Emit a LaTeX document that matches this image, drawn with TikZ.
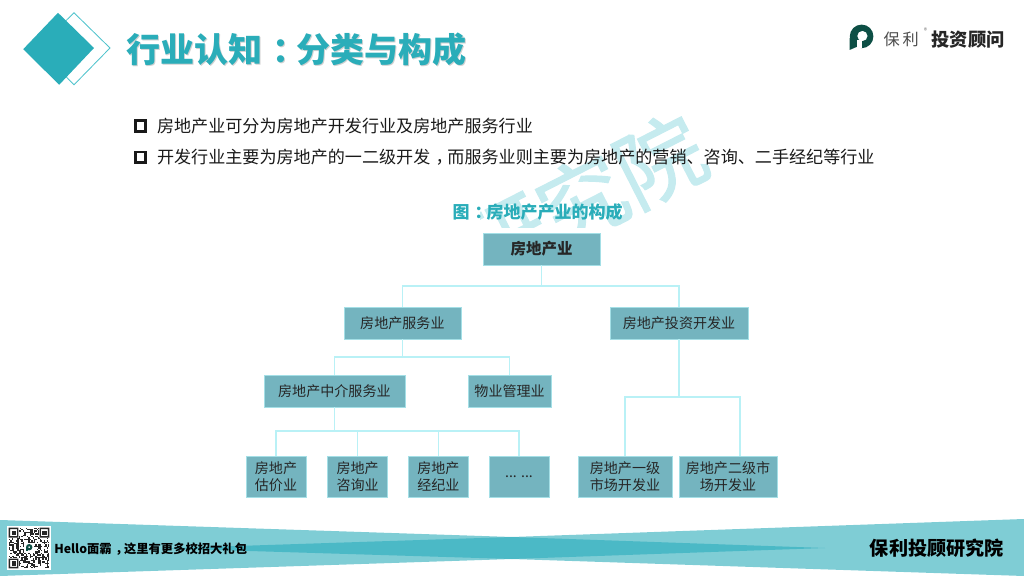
\documentclass[tikz,border=0pt]{standalone}
\usepackage{xcolor}
\usepackage{fontspec}
\setmainfont{Noto Sans CJK SC}
\newfontfamily\markfont[FakeBold=1.2]{Noto Sans CJK SC}
\definecolor{tealmain}{HTML}{2AADB9}
\definecolor{tealline}{HTML}{4FC3CC}
\definecolor{tealbox}{HTML}{74B4BF}
\definecolor{linkcyan}{HTML}{B9F1F6}
\definecolor{bandlight}{HTML}{7FCDD5}
\definecolor{banddark}{HTML}{4BB9C6}
\definecolor{watermark}{HTML}{C5EBEF}
\definecolor{logogreen}{HTML}{0D4F45}
\newcommand{\midpunct}[1]{\hspace{.3em}#1\hspace{-.3em}}
\tikzset{
  sectorbox/.style={draw=linkcyan!70!tealbox,line width=0.4pt,fill=tealbox,text=black!85,inner sep=0pt,
    minimum height=0.8cm,align=center,font=\fontsize{10}{12}\selectfont},
  leafbox/.style={sectorbox,minimum height=1.025cm},
  link/.style={draw=linkcyan,line width=1pt},
  bulletbox/.style={draw=black!90,line width=2pt,minimum size=0.26cm,inner sep=0pt},
  bodytext/.style={anchor=west,inner sep=0pt,text=black!90,font=\fontsize{12.15}{14}\selectfont}
}
\begin{document}
\begin{tikzpicture}
  \useasboundingbox (0,0) rectangle (25.6,14.4);

  % Watermark
  \begin{scope}
    \clip (12,8.7) rectangle (18.2,12);
    \node[rotate=27,text=watermark,inner sep=0pt,font=\markfont\fontsize{62}{64}\selectfont] (Mark) at (14.55,9.4) {研究院};
  \end{scope}

  % Header
  \draw[draw=tealline,line width=0.6pt] (1.85,14.08) -- (2.75,13.2) -- (1.85,12.28) -- (0.95,13.2) -- cycle;
  \fill[tealmain] (1.45,14.08) -- (2.35,13.2) -- (1.48,12.28) -- (0.58,13.17) -- cycle;
  \node[text=black!18,inner sep=0pt,font=\bfseries\fontsize{24.2}{26}\selectfont] (TitleShade) at (7.44,13.13) {行业认知\midpunct{：}分类与构成};
  \node[text=tealmain,inner sep=0pt,font=\bfseries\fontsize{24.2}{26}\selectfont] (Title) at (7.41,13.16) {行业认知\midpunct{：}分类与构成};

  % Logo
  \fill[logogreen,even odd rule] (21.54,13.49) circle (0.295) (21.56,13.5) circle (0.13);
  \fill[logogreen] (21.24,13.45) -- (21.24,13.15) -- (21.4,13.22) -- (21.4,13.4) -- cycle;
  \fill[white] (21.43,13.2) rectangle (21.55,13.4);
  \node[text=black!70,inner sep=0pt,font=\fontsize{11.5}{13}\selectfont] (LogoA) at (22.53,13.42) {保\,利};
  \node[text=black!55,inner sep=0pt,font=\fontsize{5}{6}\selectfont] (LogoR) at (23.14,13.62) {®};
  \node[text=black!85,inner sep=0pt,font=\bfseries\fontsize{13}{15}\selectfont] (LogoB) at (24.2,13.42) {投资顾问};

  % Bullets
  \node[bulletbox] (BulletA) at (3.51,11.25) {};
  \node[bulletbox] (BulletB) at (3.51,10.47) {};
  \node[bodytext] (LineA) at (3.92,11.25) {房地产业可分为房地产开发行业及房地产服务行业};
  \node[bodytext] (LineB) at (3.92,10.47) {开发行业主要为房地产的一二级开发\midpunct{，}而服务业则主要为房地产的营销、咨询、二手经纪等行业};
  \node[text=tealmain,inner sep=0pt,font=\bfseries\fontsize{12.1}{14}\selectfont] (ChartTitle) at (13.44,9.09) {图\midpunct{：}房地产产业的构成};

  % Sectors
  \node[sectorbox,minimum width=2.925cm,font=\bfseries\fontsize{11}{13}\selectfont] (RootSector) at (13.54,8.175) {房地产业};
  \node[sectorbox,minimum width=2.925cm] (ServiceSector) at (10.06,6.325) {房地产服务业};
  \node[sectorbox,minimum width=3.45cm] (InvestSector) at (16.975,6.325) {房地产投资开发业};
  \node[sectorbox,minimum width=3.525cm] (AgencySector) at (8.36,4.625) {房地产中介服务业};
  \node[sectorbox,minimum width=2.075cm] (PropertySector) at (12.74,4.625) {物业管理业};
  \node[leafbox,minimum width=1.5cm] (Appraisal) at (6.9,2.4875) {房地产\\估价业};
  \node[leafbox,minimum width=1.5cm] (Consulting) at (8.94,2.4875) {房地产\\咨询业};
  \node[leafbox,minimum width=1.5cm] (Brokerage) at (10.96,2.4875) {房地产\\经纪业};
  \node[leafbox,minimum width=1.5cm] (OtherLeaf) at (12.975,2.4875) {... ...};
  \node[leafbox,minimum width=2.35cm] (PrimaryDev) at (15.625,2.4875) {房地产一级\\市场开发业};
  \node[leafbox,minimum width=2.45cm] (SecondaryDev) at (18.2,2.4875) {房地产二级市\\场开发业};

  \coordinate (RootBus) at (13.54,7.25);
  \coordinate (ServiceBus) at (10.06,5.475);
  \coordinate (AgencyBus) at (8.36,3.625);
  \coordinate (InvestBus) at (16.975,4.475);
  \coordinate (SecondaryTop) at (18.5,2.9875);

  \draw[link] (RootSector) to (RootBus);
  \draw[link] (RootBus) -| (ServiceSector.north);
  \draw[link] (RootBus) -| (InvestSector.north);
  \draw[link] (ServiceSector) to (ServiceBus);
  \draw[link] (ServiceBus) -| (AgencySector.north);
  \draw[link] (ServiceBus) -| (PropertySector.north);
  \draw[link] (AgencySector) to (AgencyBus);
  \draw[link] (AgencyBus) -| (Appraisal.north);
  \draw[link] (AgencyBus) -| (Consulting.north);
  \draw[link] (AgencyBus) -| (Brokerage.north);
  \draw[link] (AgencyBus) -| (OtherLeaf.north);
  \draw[link] (InvestSector) to (InvestBus);
  \draw[link] (InvestBus) -| (PrimaryDev.north);
  \draw[link] (InvestBus) -| (SecondaryTop);

  % Footer
  \fill[bandlight] (0,1.4) -- (12.8,0.975) -- (25.6,1.425) -- (25.6,0) -- (12.8,0.425) -- (0,0) -- cycle;
  \fill[banddark] (4.1,0.69) -- (12.8,0.975) -- (20.625,0.7) -- (12.8,0.425) -- cycle;
  \fill[white] (0.175,0.15) rectangle (1.275,1.25);
  \pgfmathsetseed{4711}
  \foreach \qx in {0,...,28} {
    \foreach \qy in {0,...,28} {
      \pgfmathtruncatemacro{\qon}{rnd<0.5}
      \ifnum\qon=1
        \fill[black!85] ({0.2175+\qx*0.035},{0.1925+\qy*0.035}) rectangle ++(0.035,0.035);
      \fi
    }
  }
  \foreach \fx/\fy in {0.2175/0.1925,0.9875/0.9625,0.2175/0.9625} {
    \fill[white] (\fx-0.02,\fy-0.02) rectangle ++(0.285,0.285);
    \fill[black!85,even odd rule] (\fx,\fy) rectangle ++(0.245,0.245) (\fx+0.035,\fy+0.035) rectangle ++(0.175,0.175);
    \fill[black!85] (\fx+0.07,\fy+0.07) rectangle ++(0.105,0.105);
  }
  \fill[white] (0.6,0.575) rectangle (0.85,0.825);
  \fill[logogreen,even odd rule] (0.73,0.72) circle (0.08) (0.73,0.72) circle (0.03);
  \fill[logogreen] (0.65,0.72) rectangle (0.7,0.62);
  \node[anchor=west,inner sep=0pt,text=black,font=\bfseries\fontsize{8.75}{11}\selectfont] (FooterLeft) at (1.35,0.66) {Hello面霸\midpunct{，}这里有更多校招大礼包};
  \node[anchor=east,inner sep=0pt,text=black,font=\bfseries\fontsize{13.6}{15}\selectfont] (FooterRight) at (25.1,0.7) {保利投顾研究院};

\end{tikzpicture}
\end{document}
